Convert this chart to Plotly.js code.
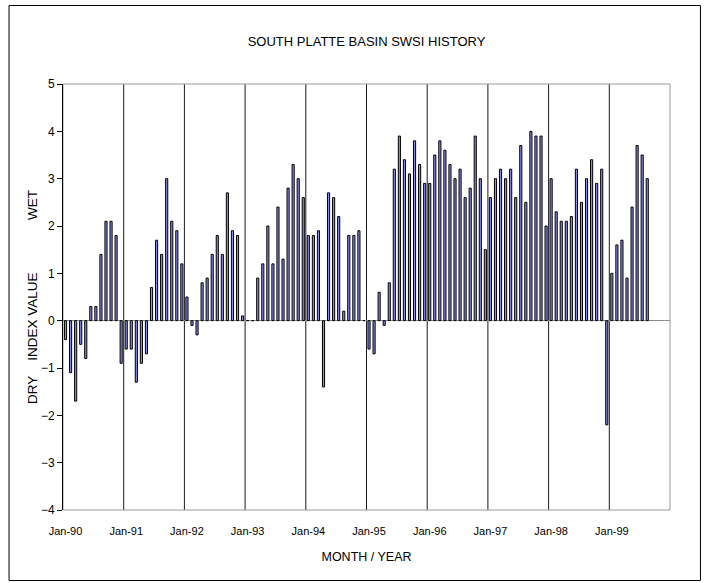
<!DOCTYPE html>
<html>
<head>
<meta charset="utf-8">
<script src="https://cdn.plot.ly/plotly-3.0.1.min.js"></script>
<style>
  html, body { margin: 0; padding: 0; background: #fff; }
  #chart { width: 707px; height: 583px; }
</style>
</head>
<body>
<div id="chart"></div>
<script>
// ---- data (SWSI index, monthly, Jan-1990 .. Aug-1999) ----
const years = [1990, 1991, 1992, 1993, 1994, 1995, 1996, 1997, 1998, 1999];
const monthNames = ['Jan','Feb','Mar','Apr','May','Jun','Jul','Aug','Sep','Oct','Nov','Dec'];
const swsi1990 = [-0.4, -1.1, -1.7, -0.5, -0.8, 0.3, 0.3, 1.4, 2.1, 2.1, 1.8, -0.9];
const swsi1991 = [-0.6, -0.6, -1.3, -0.9, -0.7, 0.7, 1.7, 1.4, 3.0, 2.1, 1.9, 1.2];
const swsi1992 = [0.5, -0.1, -0.3, 0.8, 0.9, 1.4, 1.8, 1.4, 2.7, 1.9, 1.8, 0.1];
const swsi1993 = [0, 0, 0.9, 1.2, 2.0, 1.2, 2.4, 1.3, 2.8, 3.3, 3.0, 2.6];
const swsi1994 = [1.8, 1.8, 1.9, -1.4, 2.7, 2.6, 2.2, 0.2, 1.8, 1.8, 1.9, 0];
const swsi1995 = [-0.6, -0.7, 0.6, -0.1, 0.8, 3.2, 3.9, 3.4, 3.1, 3.8, 3.3, 2.9];
const swsi1996 = [2.9, 3.5, 3.8, 3.6, 3.3, 3.0, 3.2, 2.6, 2.8, 3.9, 3.0, 1.5];
const swsi1997 = [2.6, 3.0, 3.2, 3.0, 3.2, 2.6, 3.7, 2.5, 4.0, 3.9, 3.9, 2.0];
const swsi1998 = [3.0, 2.3, 2.1, 2.1, 2.2, 3.2, 2.5, 3.0, 3.4, 2.9, 3.2, -2.2];
const swsi1999 = [1.0, 1.6, 1.7, 0.9, 2.4, 3.7, 3.5, 3.0];
const tickLabels = ['Jan-90','Jan-91','Jan-92','Jan-93','Jan-94','Jan-95','Jan-96','Jan-97','Jan-98','Jan-99'];

// ---- build series ----
const yearly = [swsi1990, swsi1991, swsi1992, swsi1993, swsi1994, swsi1995, swsi1996, swsi1997, swsi1998, swsi1999];
const xIdx = [], yVal = [], hoverText = [];
yearly.forEach((arr, yi) => {
  arr.forEach((v, mi) => {
    xIdx.push(yi * 12 + mi);
    yVal.push(v);
    hoverText.push(monthNames[mi] + '-' + String(years[yi]).slice(2));
  });
});
const nMonths = years.length * 12;
const tickVals = tickLabels.map((_, i) => i * 12);

// plot-area geometry (pixels)
const W = 707, H = 583;
const mL = 62.5, mR = 37, mT = 84, mB = 73;
const pw = W - mL - mR, ph = H - mT - mB;
const px = v => (v - mL) / pw;          // pixel -> paper x
const py = v => 1 - (v - mT) / ph;      // pixel -> paper y

const font = 'Arial, "Liberation Sans", sans-serif';
const nb = n => '\u00a0'.repeat(n);

const shapes = [];
// year gridlines at category boundaries (between Dec and Jan)
for (let i = 1; i < years.length; i++) {
  shapes.push({type: 'line', xref: 'x', yref: 'paper', x0: i * 12 - 0.5, x1: i * 12 - 0.5, y0: 0, y1: 1,
               line: {color: '#1a1a1a', width: 1}, layer: 'below'});
}
// plot-area border (gray)
shapes.push({type: 'rect', xref: 'paper', yref: 'paper', x0: 0, x1: 1, y0: 0, y1: 1,
             line: {color: '#9a9a9a', width: 1}, layer: 'below'});
// outer chart frame
shapes.push({type: 'rect', xref: 'paper', yref: 'paper', x0: px(8.5), x1: px(700.5), y0: py(580.5), y1: py(5.5),
             line: {color: '#000', width: 1}, layer: 'below'});

const trace = {
  type: 'bar',
  x: xIdx,
  y: yVal,
  text: hoverText,
  hovertemplate: '%{text}: %{y}<extra></extra>',
  textposition: 'none',
  marker: {color: '#8c8cf5', line: {color: '#000', width: 1}},
  width: 0.42
};

const layout = {
  width: W, height: H,
  margin: {l: mL, r: mR, t: mT, b: mB, pad: 0},
  paper_bgcolor: '#fff',
  plot_bgcolor: '#fff',
  showlegend: false,
  font: {family: font, color: '#000', size: 11},
  title: {text: 'SOUTH PLATTE BASIN SWSI HISTORY', font: {family: font, size: 13, color: '#000'},
          x: 0.5, xanchor: 'center', xref: 'paper', y: 1 - 41 / H, yanchor: 'middle', yref: 'container'},
  xaxis: {
    range: [-0.5, nMonths - 0.5],
    tickmode: 'array', tickvals: tickVals, ticktext: tickLabels,
    showgrid: false, zeroline: false, showline: false,
    ticks: '', ticklabelstandoff: 13,
    tickfont: {family: font, size: 11, color: '#000'},
    automargin: true,
    title: {text: 'MONTH / YEAR', font: {family: font, size: 12.5, color: '#000'}, standoff: 16},
    fixedrange: true
  },
  yaxis: {
    range: [-4, 5], dtick: 1, tick0: 0,
    showgrid: false,
    zeroline: true, zerolinecolor: '#8c8c8c', zerolinewidth: 1,
    showline: true, linecolor: '#000', linewidth: 1,
    ticks: 'outside', ticklen: 5, tickcolor: '#000',
    tickfont: {family: font, size: 12, color: '#000'},
    automargin: true,
    title: {text: 'DRY' + nb(4) + 'INDEX VALUE' + nb(14) + 'WET',
            font: {family: font, size: 13.5, color: '#000'}, standoff: 0},
    fixedrange: true
  },
  shapes: shapes,
  bargap: 0.5
};

Plotly.newPlot('chart', [trace], layout, {displayModeBar: false, staticPlot: true});
</script>
</body>
</html>
